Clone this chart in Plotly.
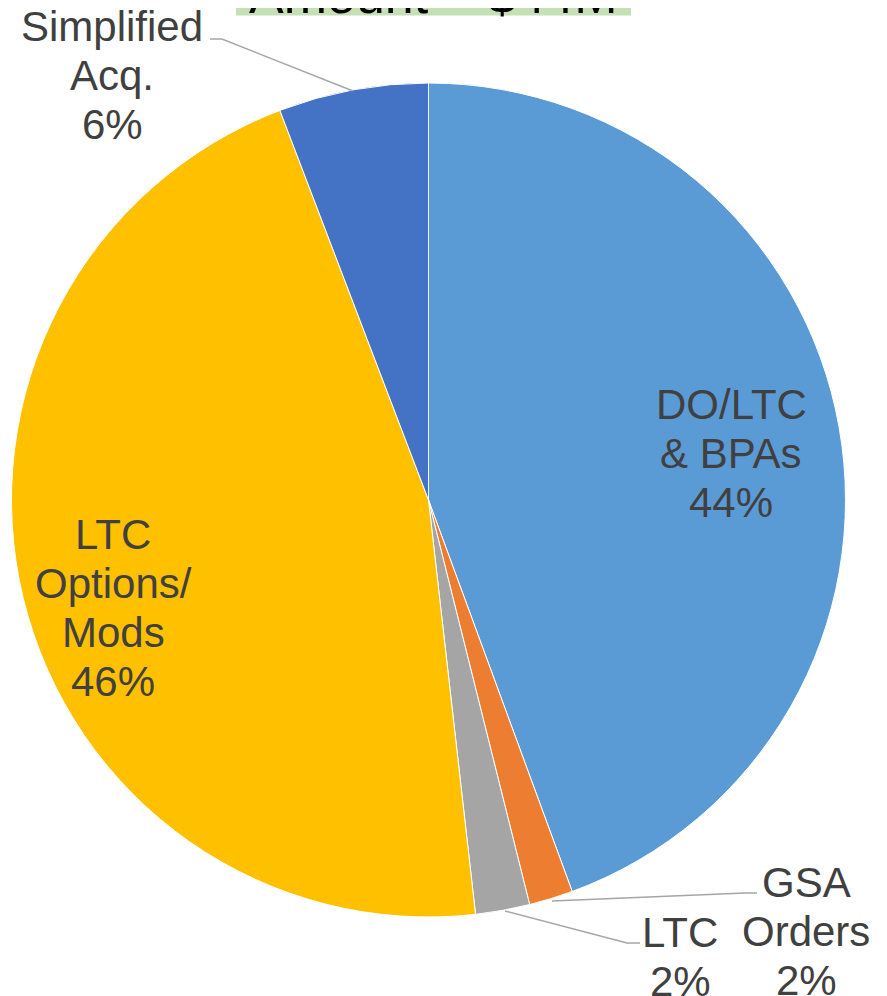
import plotly.graph_objects as go

# ---- data ----
categories = ["DO/LTC & BPAs", "GSA Orders", "LTC", "LTC Options/Mods", "Simplified Acq."]
values = [44.4, 1.7, 2.1, 46.0, 5.8]
label_lines = [["DO/LTC", "& BPAs"], ["GSA", "Orders"], ["LTC"], ["LTC", "Options/", "Mods"], ["Simplified", "Acq."]]
pct_labels = ["44%", "2%", "2%", "46%", "6%"]
colors = ["#5B9BD5", "#ED7D31", "#A5A5A5", "#FFC000", "#4472C4"]
title_text = "Amount = $44M"

W, H = 887, 996
OFF = 8  # page body margin


def px(x):
    return (x - OFF) / W


def py(y):
    return 1 - (y - OFF) / H


cx, cy, r = 428.5, 500, 417

fig = go.Figure()
fig.add_trace(go.Pie(
    labels=categories,
    values=values,
    sort=False,
    direction="clockwise",
    rotation=0,
    textinfo="none",
    hoverinfo="label+percent",
    marker=dict(colors=colors, line=dict(color="white", width=1)),
    domain=dict(x=[px(cx - r), px(cx + r)], y=[py(cy + r), py(cy - r)]),
    showlegend=False,
))

# label placements: centre x and centre y of first line (pixels), line step
label_pos = [(731, 404), (806, 882), (680, 932), (113, 534), (112, 26)]
STEP = 49.3
font = dict(family="Liberation Sans, Arial, sans-serif", size=42, color="#404040")
annotations = []
for lines, pct, (x, y) in zip(label_lines, pct_labels, label_pos):
    for i, t in enumerate(lines + [pct]):
        annotations.append(dict(
            text=t, x=px(x), y=py(y + i * STEP), xref="paper", yref="paper",
            xanchor="center", yanchor="middle", showarrow=False, font=font,
        ))

# title box (clipped at top)
annotations.append(dict(
    text=title_text, x=px(433), y=py(26), xref="paper", yref="paper",
    xanchor="center", yanchor="bottom", showarrow=False,
    font=dict(family="Liberation Sans, Arial, sans-serif", size=52, color="black"),
))

shapes = [dict(type="rect", xref="paper", yref="paper", x0=px(236), x1=px(631),
               y0=py(15.5), y1=py(-80), fillcolor="#C5E0B4", line=dict(width=0), layer="below")]

leaders = [
    [(210, 39), (222, 39), (353, 91)],
    [(757, 893), (745, 893), (552, 901)],
    [(640, 943), (627, 943), (505, 911)],
]
for pts in leaders:
    path = "M " + " L ".join(f"{px(x)},{py(y)}" for x, y in pts)
    shapes.append(dict(type="path", xref="paper", yref="paper", path=path,
                       line=dict(color="#A6A6A6", width=1.5)))

fig.update_layout(
    width=W, height=H,
    margin=dict(l=0, r=0, t=0, b=0),
    paper_bgcolor="white", plot_bgcolor="white",
    annotations=annotations, shapes=shapes,
)

fig.write_html("out.html")
